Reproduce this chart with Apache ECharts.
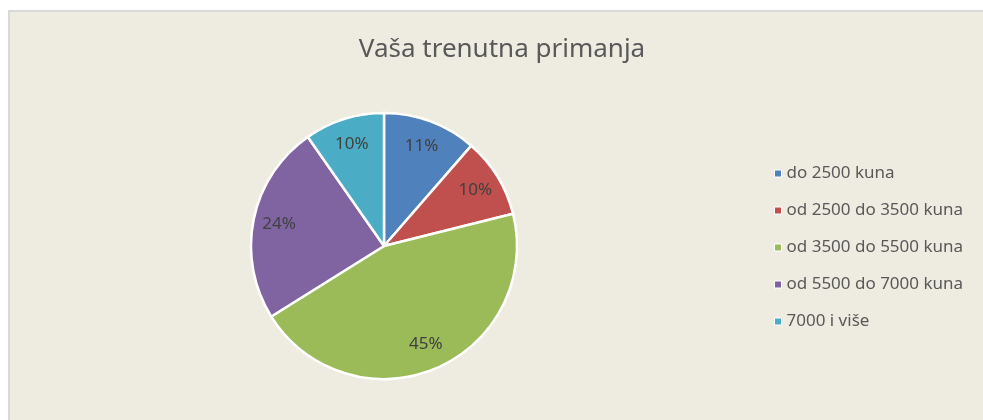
<!DOCTYPE html>
<html>
<head>
<meta charset="utf-8">
<script src="https://cdn.jsdelivr.net/npm/echarts@6/dist/echarts.min.js"></script>
<style>
html,body{margin:0;padding:0;background:#fff;overflow:hidden;}
#c{width:983px;height:420px;}
</style>
</head>
<body>
<div id="c"></div>
<script>
const categories = ['do 2500 kuna', 'od 2500 do 3500 kuna', 'od 3500 do 5500 kuna', 'od 5500 do 7000 kuna', '7000 i više'];
const values = [11.4, 9.7, 45.0, 24.2, 9.7];
const colors = ['#4F81BD', '#C0504D', '#9BBB59', '#8064A2', '#4BACC6'];
const titleText = 'Vaša trenutna primanja';

const chart = echarts.init(document.getElementById('c'));
const data = categories.map((n, i) => ({ name: n, value: values[i], itemStyle: { color: colors[i] } }));
const font = '"Noto Sans", sans-serif';
chart.setOption({
  backgroundColor: '#ffffff',
  animation: false,
  graphic: [{
    type: 'rect', z: -10, silent: true,
    shape: { x: 9, y: 11, width: 990, height: 420 },
    style: { fill: '#EEECE1' }
  }, {
    type: 'polyline', z: -9, silent: true,
    shape: { points: [[9, 430], [9, 11], [990, 11]] },
    style: { fill: null, stroke: '#D9D9D9', lineWidth: 2 }
  }],
  title: {
    text: titleText, left: 497, top: 32, textAlign: 'center',
    textStyle: { fontFamily: font, fontSize: 26, fontWeight: 'normal', color: '#595959' }
  },
  legend: {
    orient: 'vertical', left: 769, top: 160,
    itemWidth: 7, itemHeight: 7, itemGap: 20,
    icon: 'rect',
    data: categories,
    itemStyle: { borderColor: '#ffffff', borderWidth: 1 },
    textStyle: { fontFamily: font, fontSize: 17, color: '#595959' }
  },
  series: [{
    type: 'pie', center: [384, 246], radius: [0, 133],
    startAngle: 90, clockwise: true,
    itemStyle: { borderColor: '#ffffff', borderWidth: 2.5 },
    label: { show: false }, labelLine: { show: false },
    emphasis: { disabled: true },
    data: data
  }, {
    type: 'pie', center: [384, 246], radius: [75, 133],
    startAngle: 90, clockwise: true, silent: true,
    itemStyle: { color: 'transparent', borderWidth: 0 },
    label: {
      show: true, position: 'inside',
      formatter: p => Math.round(p.value) + '%',
      fontFamily: font, fontSize: 17, color: '#404040'
    },
    labelLine: { show: false },
    emphasis: { disabled: true },
    data: categories.map((n, i) => ({ name: n + ' ', value: values[i], itemStyle: { color: 'transparent' } }))
  }]
});
</script>
</body>
</html>
